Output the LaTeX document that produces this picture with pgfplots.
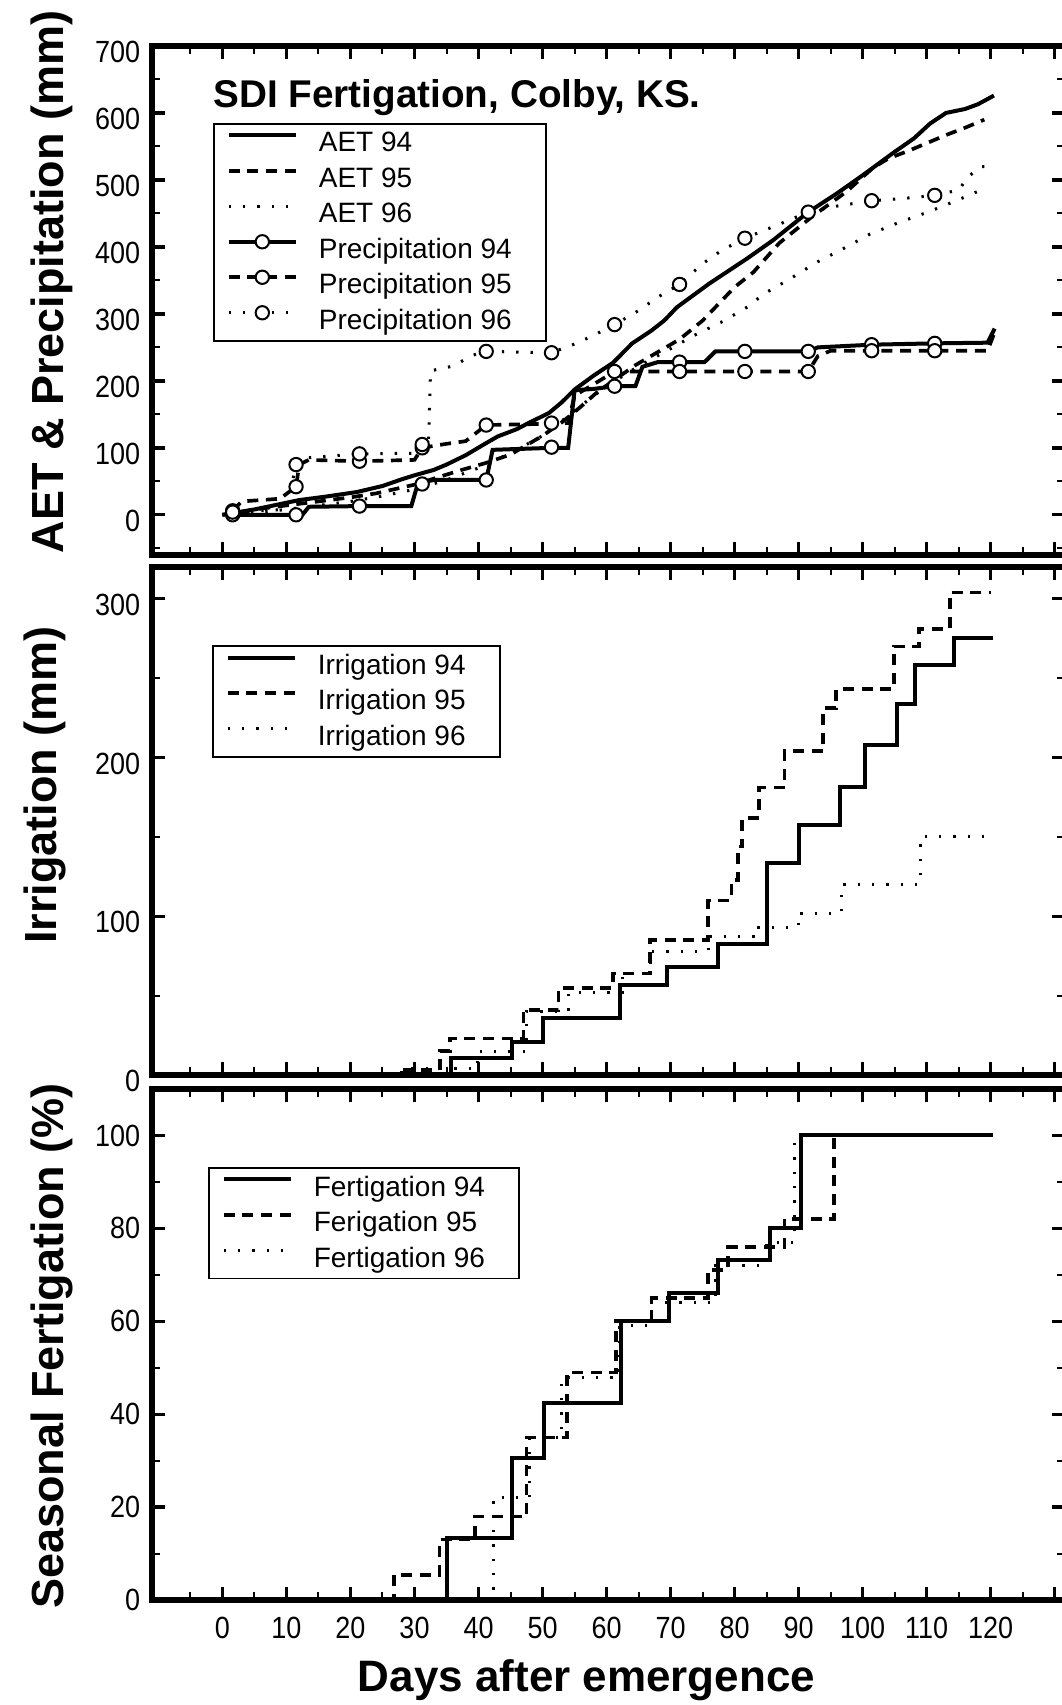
\documentclass[border=0pt]{standalone}
\usepackage{fontspec}
\setmainfont{Liberation Sans}
\newfontfamily\tickfamily[FakeStretch=0.88]{Liberation Sans}
\usepackage{pgfplots}
\pgfplotsset{compat=1.18}

\newcommand\tickfont{\tickfamily\fontsize{9.2}{10}\selectfont}
\newcommand\labfont{\bfseries\fontsize{13.2}{15}\selectfont}
\newcommand\ylabfont{\bfseries\fontsize{13.5}{15}\selectfont}
\newcommand\legfont{\fontsize{8.4}{9}\selectfont}

\pgfplotsset{
  panel/.style={
    scale only axis, width=273.9pt,
    xmin=-11, xmax=131.6,
    xtick={0,10,...,130}, minor xtick={-5,5,...,125},
    axis line style={line width=1.6pt},
    tick align=inside,
    major tick length=4pt, minor tick length=2.4pt,
    every major tick/.append style={line width=1pt,black},
    every minor tick/.append style={line width=0.6pt,black},
    tick label style={font=\tickfont},
    /pgf/number format/assume math mode=true,
    xticklabels={},
    legend cell align=left,
    legend style={draw=black, line width=0.5pt, font=\legfont, anchor=north west,
      inner xsep=3.9pt, inner ysep=0.6pt, row sep=0pt,
      nodes={inner xsep=6.3pt, inner ysep=0.5pt, text height=7.3pt, text depth=2.35pt}},
    legend image code/.code={\draw[mark repeat=2,mark phase=2,##1] plot coordinates {(0pt,2.5pt) (10.05pt,2.5pt) (20.1pt,2.5pt)};},
    every axis y label/.style={rotate=90, anchor=base, font=\ylabfont},
  },
  s94/.style={black, line width=1.2pt, solid},
  s95/.style={black, line width=1.1pt, dash pattern=on 3.3pt off 2.3pt},
  s96/.style={black, line width=0.9pt, dash pattern=on 0.7pt off 3.6pt},
  pmark/.style={only marks, mark=*, mark size=2pt, mark options={solid, fill=white, draw=black, line width=0.6pt}},
}

\begin{document}
\begin{tikzpicture}

% ---------------- TOP PANEL ----------------
\begin{axis}[panel, at={(0pt,313.5pt)}, anchor=south west, height=152.7pt,
  ymin=-60, ymax=700, ytick={0,100,...,700}, minor ytick={-50,50,...,650},
  yticklabel style={yshift=-1.8pt},
  ylabel={AET \& Precipitation (mm)},
  ylabel style={at={(axis description cs:-0.0964,0.536)}},
  legend style={at={(0.0668,0.8487)}}]
\addplot[s94] coordinates {(0,0) (2,3) (5,8) (8,14) (12,22) (16,27) (21,34) (25,43) (28,53) (30,59) (33,67) (35,75) (38,89) (41,106) (43,117) (46,128) (48,138) (51,152) (53,168) (55,187) (58,208) (61,227) (64,256) (67,275) (69,290) (71,310) (76,345) (82,383) (86,410) (91.5,452) (96,480) (100,507) (105,542) (108,562) (110.5,584) (113,600) (116,606) (118,613) (120.5,626)};
\addlegendentry{AET 94}
\addplot[s95] coordinates {(0,0) (5,8) (10,14) (15,20) (20,26) (24,32) (30,45) (37,66) (41,77) (45,90) (50,118) (53,138) (55.8,160) (58.4,182) (61,200) (64.6,224) (68,243) (71.4,262) (75,290) (77.7,317) (80,340) (82.9,362) (87,406) (92.2,446) (97.4,482) (101.6,518) (104,532) (107.3,544) (113,567) (116,578) (119,590)};
\addlegendentry{AET 95}
\addplot[s96] coordinates {(0,0) (5,3) (10,8) (15,14) (20,20) (25,28) (30,38) (35,52) (40,70) (45,92) (50,118) (55,155) (58,178) (61,198) (65,222) (70,248) (73.5,267) (78.2,289) (82.3,312) (84.4,329) (88.6,352) (92.8,377) (96.9,397) (101.1,419) (105.8,437) (110.2,452) (114.6,469) (119,487)};
\addlegendentry{AET 96}
\addlegendimage{s94, mark=*, mark size=2pt, mark options={solid, fill=white, line width=0.6pt}}
\addlegendentry{Precipitation 94}
\addlegendimage{s95, mark=*, mark size=2pt, mark options={solid, fill=white, line width=0.6pt}}
\addlegendentry{Precipitation 95}
\addlegendimage{s96, mark=*, mark size=2pt, mark options={solid, fill=white, line width=0.6pt}}
\addlegendentry{Precipitation 96\hspace{1.5pt}}
% precipitation lines
\addplot[s94, forget plot] coordinates {(1.6,0) (11.5,0) (12.5,0) (13.5,12) (21.4,13) (29.5,13) (30.5,46) (32,50) (33,52) (41.2,52) (42.2,97) (51.4,100) (54,100) (55,186) (58,188) (61.25,192) (64.5,192) (65.6,221) (68,228) (75.3,228) (77,244) (91.5,244) (93,250) (101.4,254) (111.25,256) (119.5,257) (120.6,278)};
\addplot[s95, forget plot] coordinates {(1.6,6) (3,20) (9,24) (11.5,42) (12,75) (13.5,82) (21.4,80) (30,82) (31.2,100) (35,106) (38,110) (40,125) (41.2,134) (51.4,136) (54,137) (55,178) (58,195) (61.25,214) (91.5,214) (93,237) (95,245) (111.25,245) (119.5,245) (120.5,270)};
\addplot[s96, forget plot] coordinates {(1.6,4) (10,8) (11.5,75) (13,85) (21.4,91) (30.5,92) (31.2,105) (32.2,108) (32.5,215) (36,222) (39,238) (41.2,244) (51.4,242) (55,255) (58,268) (61.25,284) (65,305) (68,325) (71.4,344) (75,375) (78,395) (81.6,413) (86,430) (91.5,452) (96,461) (101.4,469) (106,472) (111.25,477) (115,485) (116.5,505) (118.5,520) (120,520)};
% precipitation markers
\addplot[pmark, forget plot] coordinates {(1.6,0) (11.5,0) (21.4,13) (31.2,46) (41.2,52) (51.4,101) (61.25,192) (71.4,228) (81.6,244) (91.5,244) (101.4,254) (111.25,256)};
\addplot[pmark, forget plot] coordinates {(1.6,6) (11.5,42) (21.4,80) (31.2,100) (41.2,134) (51.4,137) (61.25,214) (71.4,214) (81.6,214) (91.5,214) (101.4,245) (111.25,245)};
\addplot[pmark, forget plot] coordinates {(1.6,4) (11.5,75) (21.4,91) (31.2,105) (41.2,244) (51.4,242) (61.25,284) (71.4,344) (81.6,413) (91.5,452) (101.4,469) (111.25,477)};
\node[anchor=base west, inner sep=0pt, font=\bfseries\fontsize{11.6}{13}\selectfont] at (rel axis cs:0.0668,0.879) {SDI Fertigation, Colby, KS.};
\end{axis}

% ---------------- MIDDLE PANEL ----------------
\begin{axis}[panel, at={(0pt,157.5pt)}, anchor=south west, height=152.4pt,
  ymin=0, ymax=320, ytick={0,100,200,300}, minor ytick={50,150,250},
  yticklabel style={yshift=-1.8pt},
  ylabel={Irrigation (mm)},
  ylabel style={at={(axis description cs:-0.105,0.571)}},
  legend style={at={(0.0657,0.8455)}}]
\addplot[s94, const plot] coordinates {(26,0) (35.7,11) (45.2,21) (50,36) (62.1,57) (69.4,68) (77.4,82.5) (85,133.5) (90.1,157.5) (96.4,181.7) (100.3,208) (105.3,234) (108.1,258) (114.3,275) (120.4,275)};
\addlegendentry{Irrigation 94}
\addplot[s95, const plot] coordinates {(26,0) (27.5,3) (34,15) (35.5,23) (47,41) (52.5,55) (61,64) (66.8,85) (75.8,110) (79.5,123) (80.5,144) (81.2,162) (83.8,181) (87.8,204) (93.8,231) (95.8,243) (104.9,270) (108.8,281) (113.6,304) (120,304)};
\addlegendentry{Irrigation 95}
\addplot[s96, const plot] coordinates {(26,0) (28,4) (39.8,15) (47.5,40) (54,52) (62.5,64) (66.9,78) (75.9,87) (83.8,93) (89.9,102) (96.7,120) (109,150) (119.5,150)};
\addlegendentry{Irrigation 96}
\end{axis}

% ---------------- BOTTOM PANEL ----------------
\begin{axis}[panel, at={(0pt,0pt)}, anchor=south west, height=153.3pt,
  ymin=0, ymax=110, ytick={0,20,...,100}, minor ytick={10,30,...,90},
  xticklabels={0,10,20,30,40,50,60,70,80,90,100,110,120,{}},
  xticklabel style={yshift=-1.5pt},
  xlabel={Days after emergence},
  xlabel style={at={(axis description cs:0.476,-0.180)}, anchor=base, font=\labfont},
  ylabel={Seasonal Fertigation (\%)},
  ylabel style={at={(axis description cs:-0.0964,0.497)}},
  legend style={at={(0.0613,0.847)}}]
\addplot[s94, const plot] coordinates {(25,0) (35,13.3) (45.2,30.5) (50.3,42.4) (62.3,60) (69.7,66.1) (77.4,73.1) (85.5,80.1) (90.3,100) (120.3,100)};
\addlegendentry{Fertigation 94}
\addplot[s95, const plot] coordinates {(26,0) (26.8,5.4) (33.9,13) (39.5,18) (47.5,35) (53.8,49) (61.5,60) (67,65) (75.8,71) (79,76) (87.8,82) (95.5,100) (120,100)};
\addlegendentry{Ferigation 95}
\addplot[s96, const plot] coordinates {(26,0) (42.3,22) (48,35) (53,48) (62,59) (67,64) (77,72) (85,77) (89.3,100) (120,100)};
\addlegendentry{Fertigation 96}
\end{axis}

\pgfresetboundingbox
\path[use as bounding box] (-45.6pt,-31.5pt) rectangle (272.8pt,480pt);
\end{tikzpicture}
\end{document}
